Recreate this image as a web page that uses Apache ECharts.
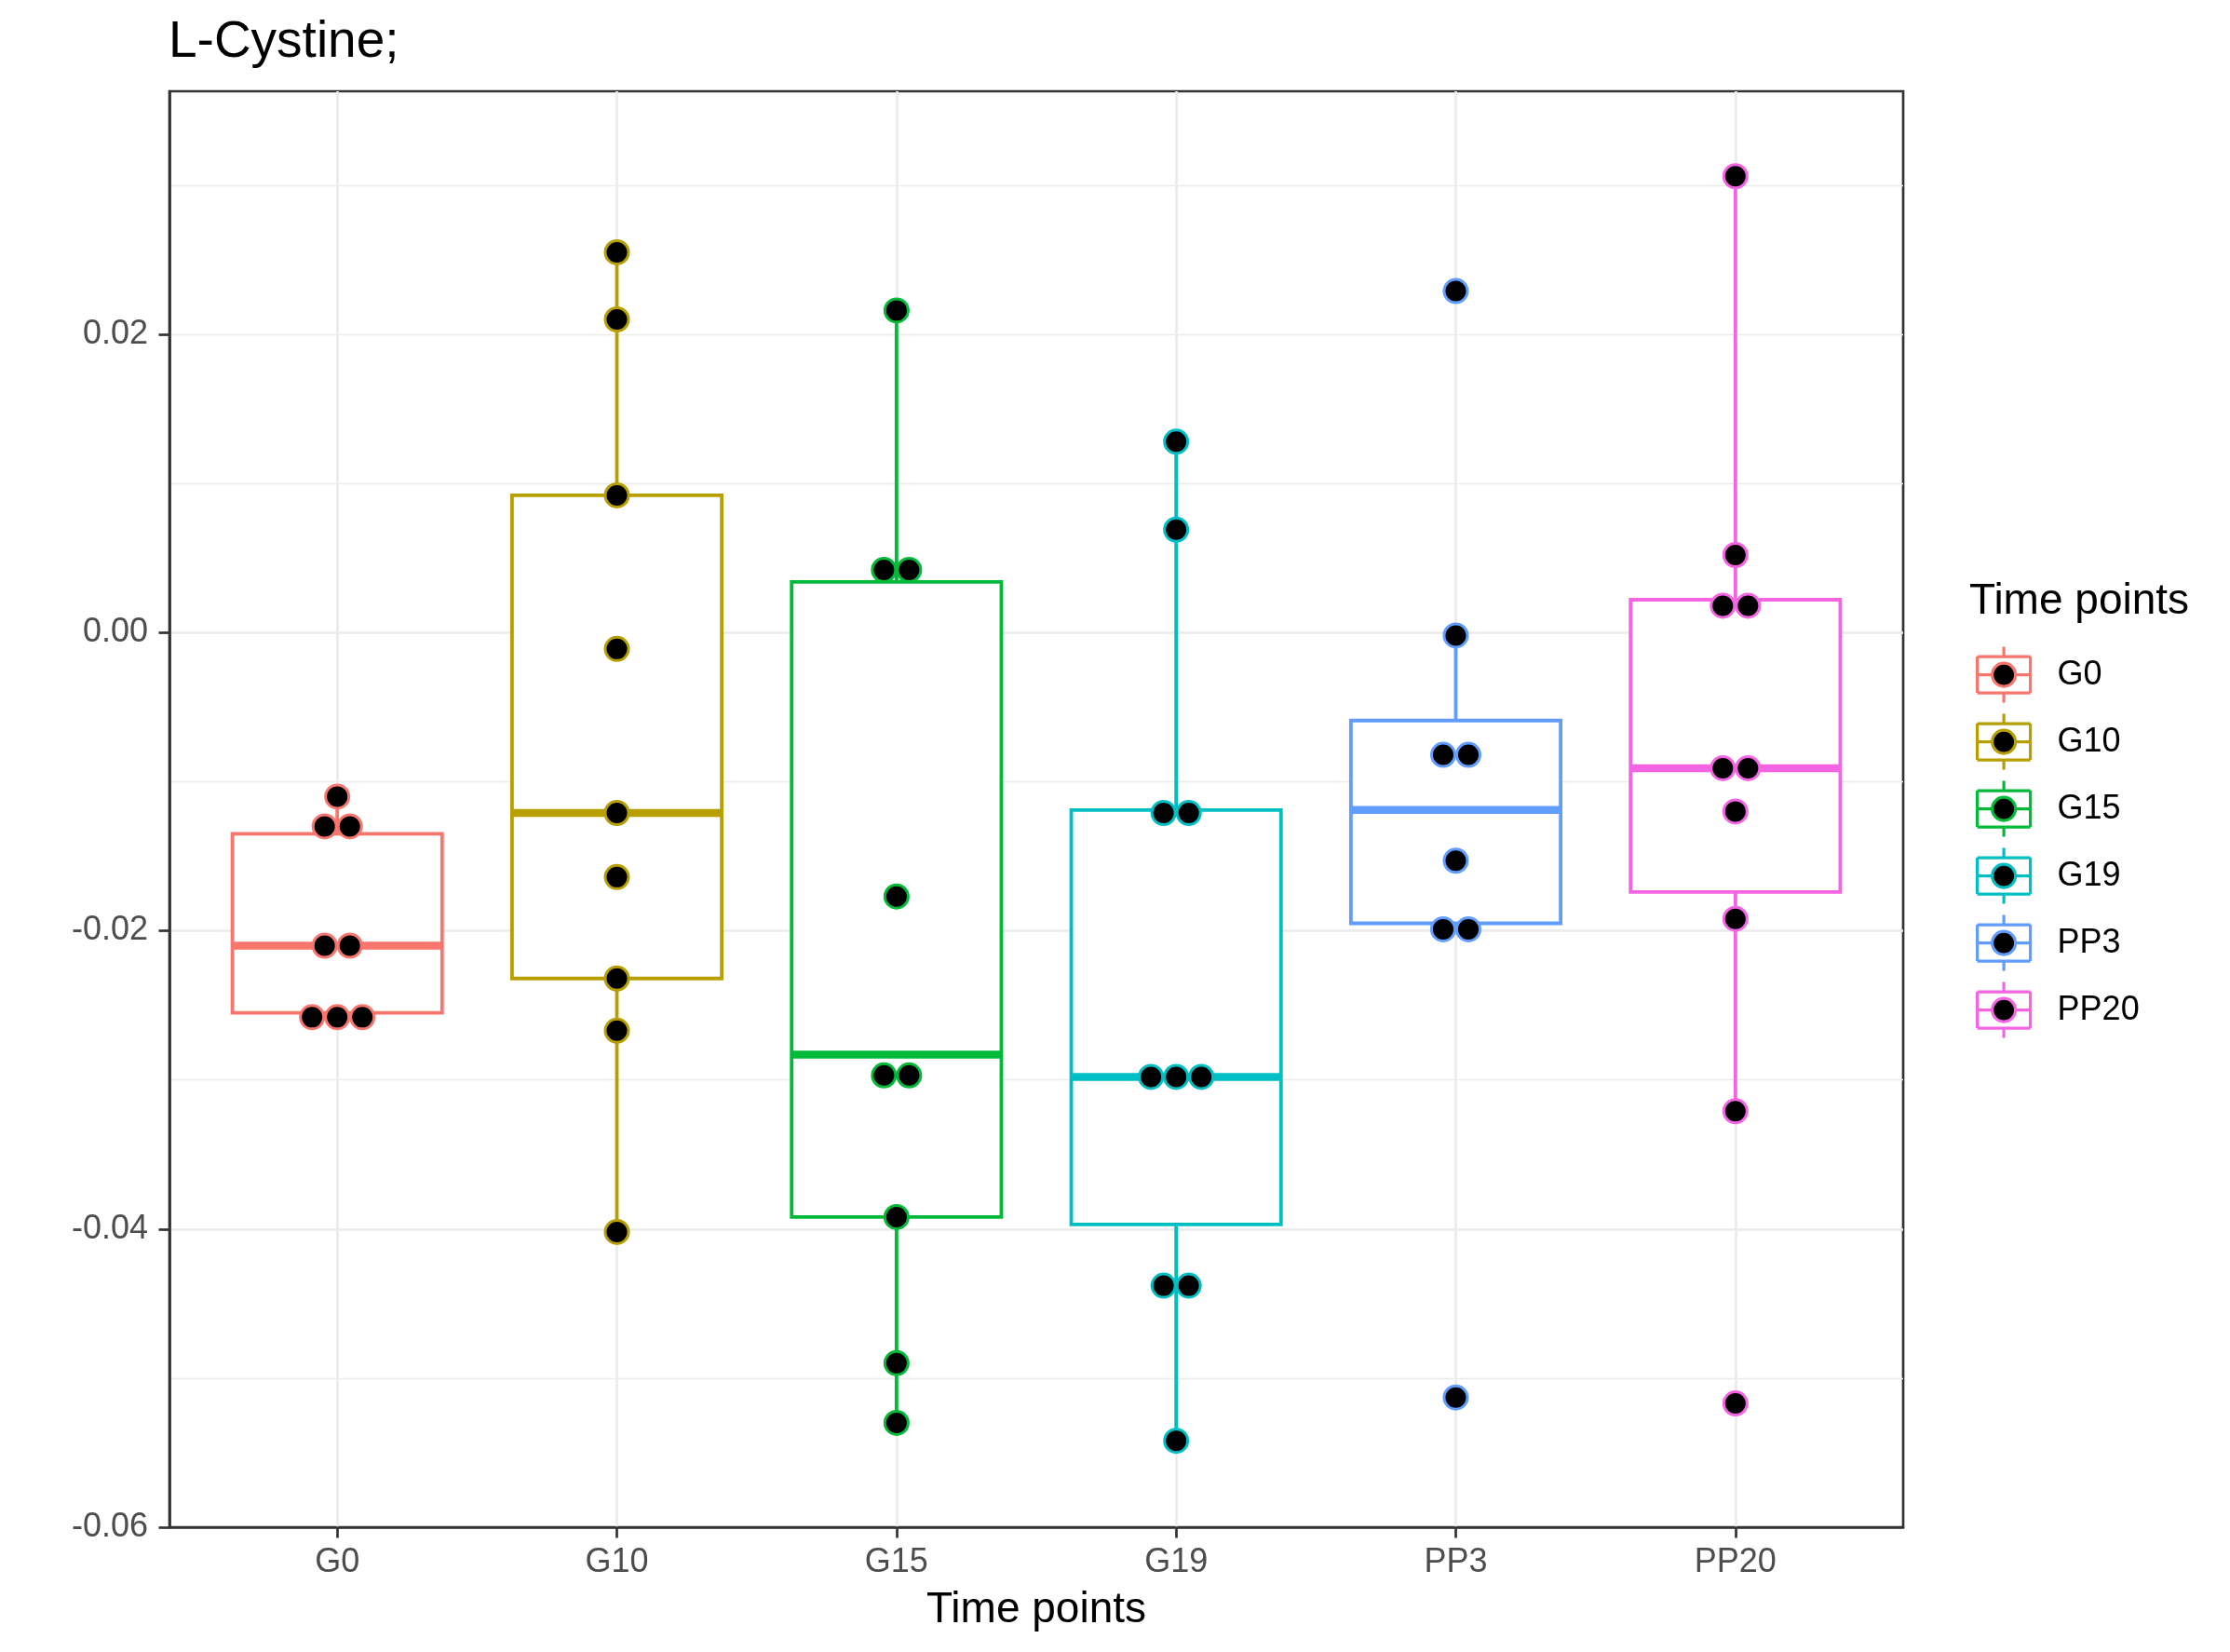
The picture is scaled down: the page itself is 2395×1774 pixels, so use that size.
<!DOCTYPE html>
<html>
<head>
<meta charset="utf-8">
<script src="https://cdn.jsdelivr.net/npm/echarts@6/dist/echarts.min.js"></script>
<style>
  html, body { margin: 0; padding: 0; background: #ffffff; }
  #chart { width: 2395px; height: 1774px; }
</style>
</head>
<body>
<div id="chart"></div>
<script>
// ---------------- data ----------------
const categories = ['G0', 'G10', 'G15', 'G19', 'PP3', 'PP20'];
const yTickValues = [-0.06, -0.04, -0.02, 0.00, 0.02];

// box statistics per group: [lower whisker, Q1, median, Q3, upper whisker]
const boxG0   = [-0.0258, -0.0255, -0.0210, -0.0135, -0.0110];
const boxG10  = [-0.0402, -0.0232, -0.0121,  0.0092,  0.0255];
const boxG15  = [-0.0530, -0.0392, -0.0283,  0.0034,  0.0216];
const boxG19  = [-0.0542, -0.0397, -0.0298, -0.0119,  0.0128];
const boxPP3  = [-0.0199, -0.0195, -0.0119, -0.0059, -0.0002];
const boxPP20 = [-0.0321, -0.0174, -0.0091,  0.0022,  0.0306];

// individual observations (dots) per group
const ptsG0   = [-0.0110, -0.0130, -0.0130, -0.0210, -0.0210, -0.0258, -0.0258, -0.0258];
const ptsG10  = [0.0255, 0.0210, 0.0092, -0.0011, -0.0121, -0.0164, -0.0232, -0.0267, -0.0402];
const ptsG15  = [0.0216, 0.0042, 0.0042, -0.0177, -0.0297, -0.0297, -0.0392, -0.0490, -0.0530];
const ptsG19  = [0.0128, 0.0069, -0.0121, -0.0121, -0.0298, -0.0298, -0.0298, -0.0438, -0.0438, -0.0542];
const ptsPP3  = [0.0229, -0.0002, -0.0082, -0.0082, -0.0153, -0.0199, -0.0199, -0.0513];
const ptsPP20 = [0.0306, 0.0052, 0.0018, 0.0018, -0.0091, -0.0091, -0.0120, -0.0192, -0.0321, -0.0517];

// ---------------- styling ----------------
const palette = ['#F8766D', '#B79F00', '#00BA38', '#00BFC4', '#619CFF', '#F564E3'];
const FONT = "'Liberation Sans', Arial, Helvetica, sans-serif";
const boxes = [boxG0, boxG10, boxG15, boxG19, boxPP3, boxPP20];
const points = [ptsG0, ptsG10, ptsG15, ptsG19, ptsPP3, ptsPP20];
const DOT_STEP = 0.09;   // horizontal stacking step (x-axis units) for tied dots
const BOX_WIDTH = 0.75;  // box width in x-axis units

// spread tied values side by side (centered), like a centered dot plot
function dotData(groupIdx, vals) {
  const counts = {};
  vals.forEach(v => { counts[v] = (counts[v] || 0) + 1; });
  const seen = {};
  return vals.map(v => {
    const n = counts[v];
    const k = seen[v] = (seen[v] === undefined ? 0 : seen[v] + 1);
    return [groupIdx + 1 + (k - (n - 1) / 2) * DOT_STEP, v];
  });
}

const series = [];
categories.forEach((name, i) => {
  const col = palette[i];
  series.push({
    name: name,
    type: 'custom',
    z: 2,
    silent: true,
    encode: { x: 0, y: [1, 2, 3, 4, 5] },
    data: [[i + 1].concat(boxes[i])],
    renderItem: function (params, api) {
      const x = api.value(0);
      const lo = api.coord([x, api.value(1)]);
      const q1 = api.coord([x, api.value(2)]);
      const md = api.coord([x, api.value(3)]);
      const q3 = api.coord([x, api.value(4)]);
      const hi = api.coord([x, api.value(5)]);
      const w = api.size([BOX_WIDTH, 0])[0];
      const cx = q1[0];
      return {
        type: 'group',
        children: [
          { type: 'line', shape: { x1: cx, y1: hi[1], x2: cx, y2: q3[1] }, style: { stroke: col, lineWidth: 3.8 } },
          { type: 'line', shape: { x1: cx, y1: q1[1], x2: cx, y2: lo[1] }, style: { stroke: col, lineWidth: 3.8 } },
          { type: 'rect', shape: { x: cx - w / 2, y: q3[1], width: w, height: q1[1] - q3[1] },
            style: { fill: '#ffffff', stroke: col, lineWidth: 3.8 } },
          { type: 'line', shape: { x1: cx - w / 2, y1: md[1], x2: cx + w / 2, y2: md[1] },
            style: { stroke: col, lineWidth: 8.5 } }
        ]
      };
    }
  });
  series.push({
    name: name,
    type: 'scatter',
    z: 3,
    silent: true,
    symbol: 'circle',
    symbolSize: 25,
    itemStyle: { color: '#000000', borderColor: col, borderWidth: 3, opacity: 1 },
    data: dotData(i, points[i])
  });
});

// legend key: box outline (open segments, so only the dot gets filled), whiskers, median, dot
const keyIcon = 'path://' +
  'M0,10.5 L57,10.5 M57,10.5 L57,49.5 M57,49.5 L0,49.5 M0,49.5 L0,10.5 ' +
  'M28.5,0 L28.5,10.5 M28.5,49.5 L28.5,60 ' +
  'M0,30 L16,30 M41,30 L57,30 ' +
  'M16,30 A12.5,12.5 0 1,0 41,30 A12.5,12.5 0 1,0 16,30 Z';

const chart = echarts.init(document.getElementById('chart'), null, { renderer: 'canvas' });
chart.setOption({
  animation: false,
  backgroundColor: '#ffffff',
  textStyle: { fontFamily: FONT },
  title: [
    { text: 'L-Cystine;', left: 181, top: 18, padding: 0,
      textStyle: { fontFamily: FONT, fontSize: 55, fontWeight: 'normal', color: '#000000' } },
    { text: 'Time points', left: 2115, top: 623, padding: 0,
      textStyle: { fontFamily: FONT, fontSize: 46, fontWeight: 'normal', color: '#000000' } }
  ],
  grid: {
    left: 182, top: 98, width: 1862, height: 1542,
    show: true, backgroundColor: '#ffffff', borderColor: '#333333', borderWidth: 2.7,
    containLabel: false
  },
  xAxis: {
    type: 'value', min: 0.4, max: 6.6,
    name: 'Time points', nameLocation: 'middle', nameGap: 66,
    nameTextStyle: { fontFamily: FONT, fontSize: 46, color: '#000000' },
    axisLine: { show: true, onZero: false, lineStyle: { color: '#333333', width: 2.7 } },
    axisTick: { show: true, length: 11.5, customValues: [1, 2, 3, 4, 5, 6], lineStyle: { color: '#333333', width: 2.7 } },
    axisLabel: { show: true, customValues: [1, 2, 3, 4, 5, 6], margin: 20,
      fontFamily: FONT, fontSize: 36, color: '#4D4D4D',
      formatter: v => categories[Math.round(v) - 1] || '' },
    splitLine: { show: true, lineStyle: { color: '#EBEBEB', width: 2.7 } }
  },
  yAxis: [
    {
      type: 'value', min: -0.06, max: 0.0363, interval: 0.02,
      axisLine: { show: true, onZero: false, lineStyle: { color: '#333333', width: 2.7 } },
      axisTick: { show: true, length: 11.5, customValues: yTickValues, lineStyle: { color: '#333333', width: 2.7 } },
      axisLabel: { show: true, customValues: yTickValues, margin: 23,
        fontFamily: FONT, fontSize: 36, color: '#4D4D4D',
        formatter: v => (Math.abs(v) < 1e-9 ? 0 : v).toFixed(2) },
      splitLine: { show: true, showMinLine: false, showMaxLine: false, lineStyle: { color: '#EBEBEB', width: 2.7 } }
    },
    {
      type: 'value', min: -0.06, max: 0.0363, interval: 0.01,
      axisLine: { show: false, onZero: false }, axisTick: { show: false }, axisLabel: { show: false },
      splitLine: { show: true, showMinLine: false, showMaxLine: false, lineStyle: { color: '#EBEBEB', width: 1.4 } }
    }
  ],
  legend: {
    orient: 'vertical', left: 2122, top: 693, padding: 0,
    itemWidth: 57, itemHeight: 60, itemGap: 8.8,
    selectedMode: false,
    textStyle: { fontFamily: FONT, fontSize: 36, color: '#000000', padding: [0, 0, 0, 24] },
    data: categories.map((n, i) => ({
      name: n, icon: keyIcon,
      itemStyle: { color: '#000000', borderColor: palette[i], borderWidth: 3.2 }
    }))
  },
  series: series
});
</script>
</body>
</html>
